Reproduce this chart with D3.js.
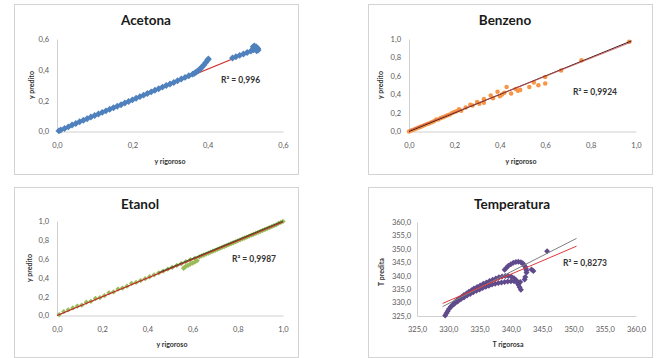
<!DOCTYPE html>
<html>
<head>
<meta charset="utf-8">
<script src="https://cdn.jsdelivr.net/npm/d3@7"></script>
<style>
  body { margin: 0; background: #fff; }
  text { font-family: Lato, 'Open Sans', sans-serif; }
</style>
</head>
<body>
<div id="root"></div>
<script>
// ---- data ----
const acetonaPts = [
  [0.005,0.004],[0.01,0.01],[0.02,0.02],[0.03,0.03],[0.04,0.042],[0.05,0.052],[0.06,0.063],[0.07,0.073],
  [0.08,0.083],[0.09,0.094],[0.10,0.104],[0.11,0.113],[0.12,0.124],[0.13,0.134],[0.14,0.144],[0.15,0.154],
  [0.16,0.164],[0.17,0.174],[0.18,0.185],[0.19,0.195],[0.20,0.205],[0.21,0.216],[0.22,0.226],[0.23,0.236],
  [0.24,0.246],[0.25,0.257],[0.26,0.267],[0.27,0.277],[0.28,0.288],[0.29,0.298],[0.30,0.308],[0.31,0.318],
  [0.32,0.329],[0.33,0.34],[0.34,0.351],[0.35,0.362],[0.36,0.372],[0.365,0.378],
  [0.37,0.386],[0.375,0.395],[0.38,0.405],[0.385,0.418],[0.39,0.432],[0.395,0.448],[0.40,0.463],[0.402,0.47],
  [0.466,0.477],[0.475,0.485],[0.485,0.494],[0.495,0.503],[0.505,0.512],[0.515,0.522],[0.522,0.53],
  [0.526,0.536],[0.521,0.55],[0.524,0.555],[0.529,0.548],[0.533,0.538],[0.534,0.528],[0.53,0.524]
]
const acetonaFit = [[0, 0.005], [0.534, 0.538]]

const benzenoPts = [
  [0,0],[0.01,0.01],[0.02,0.02],[0.03,0.03],[0.04,0.04],[0.05,0.05],[0.06,0.06],[0.07,0.07],[0.08,0.08],
  [0.09,0.09],[0.10,0.10],[0.11,0.11],[0.12,0.13],[0.13,0.13],[0.14,0.145],[0.15,0.155],[0.16,0.165],
  [0.17,0.175],[0.18,0.185],[0.19,0.20],[0.20,0.21],[0.21,0.22],[0.22,0.24],[0.23,0.225],[0.25,0.26],
  [0.27,0.29],[0.28,0.28],[0.30,0.32],[0.31,0.30],[0.33,0.35],[0.33,0.31],[0.36,0.39],[0.37,0.36],
  [0.39,0.43],[0.40,0.38],[0.41,0.40],[0.43,0.48],[0.42,0.42],[0.45,0.41],[0.47,0.46],[0.48,0.44],
  [0.49,0.45],[0.53,0.48],[0.55,0.53],[0.57,0.50],[0.60,0.52],[0.60,0.59],[0.67,0.66],[0.76,0.77],[0.97,0.97]
]
const benzenoRef = [[0, 0], [0.98, 0.98]]
const benzenoFit = [[0, 0.012], [0.98, 0.968]]

const etanolPts = [
  [0.01,0.01],[0.03,0.04],[0.05,0.06],[0.07,0.08],[0.09,0.10],[0.11,0.11],[0.13,0.14],[0.15,0.15],
  [0.17,0.18],[0.19,0.19],[0.21,0.21],[0.23,0.24],[0.25,0.25],[0.27,0.28],[0.29,0.29],[0.31,0.31],
  [0.33,0.34],[0.35,0.35],[0.37,0.37],[0.39,0.39],[0.41,0.41],[0.43,0.43],[0.45,0.45],[0.47,0.47],
  [0.49,0.49],[0.51,0.51],[0.53,0.53],[0.55,0.55],[0.56,0.50],[0.565,0.51],[0.57,0.52],[0.58,0.53],
  [0.59,0.545],[0.60,0.555],[0.61,0.565],[0.62,0.58],[0.57,0.57],[0.59,0.59],[0.61,0.605],[0.63,0.62],
  [0.64,0.63],[0.65,0.64],[0.66,0.65],[0.67,0.66],[0.68,0.67],[0.69,0.68],[0.70,0.69],[0.71,0.70],
  [0.72,0.71],[0.73,0.72],[0.74,0.73],[0.75,0.74],[0.76,0.75],[0.77,0.76],[0.78,0.77],[0.79,0.78],
  [0.80,0.79],[0.81,0.80],[0.82,0.81],[0.83,0.82],[0.84,0.83],[0.85,0.84],[0.86,0.85],[0.87,0.86],
  [0.88,0.87],[0.89,0.88],[0.90,0.89],[0.91,0.90],[0.92,0.91],[0.93,0.92],[0.94,0.93],[0.95,0.94],
  [0.96,0.95],[0.97,0.96],[0.98,0.975],[0.99,0.985],[1.0,0.995]
]
const etanolFit = [[0, 0], [1, 0.99]]
const etanolRef = [[0.45, 0.455], [1, 1.0]]

const tempPts = [
  // rising arc
  [329.5,325.2],[329.7,326.0],[329.9,326.8],[330.1,327.6],[330.4,328.4],[330.7,329.2],[331.0,330.0],
  [331.3,330.7],[331.7,331.4],[332.1,332.1],[332.5,332.8],[332.9,333.4],[333.3,334.0],[333.7,334.6],
  [334.1,335.2],[334.6,335.8],[335.1,336.4],[335.6,337.0],[336.1,337.5],[336.6,338.0],[337.1,338.5],
  [337.6,339.0],[338.1,339.4],[338.6,339.7],[339.1,339.9],[339.6,339.9],[340.1,339.6],[340.5,339.1],
  [340.8,338.4],[341.0,337.5],[341.2,336.6],[341.4,335.7],[341.6,334.8],
  // lower band
  [330.5,328.6],[331.0,329.6],[331.5,330.4],[332.0,331.2],[332.5,331.9],[333.0,332.6],[333.5,333.2],
  [334.0,333.8],[334.5,334.4],[335.0,334.9],[335.5,335.4],[336.0,335.9],[336.5,336.3],[337.0,336.7],
  [337.5,337.0],[338.0,337.3],[338.5,337.5],[339.0,337.7],[339.5,337.8],[340.0,337.9],[340.5,337.9],
  [341.0,337.8],[341.5,337.7],
  // upper arc
  [339.0,342.2],[339.3,343.0],[339.6,343.7],[340.0,344.3],[340.4,344.8],[340.8,345.1],[341.2,345.2],
  [341.6,345.0],[341.9,344.6],[342.1,344.0],[342.3,343.3],[342.4,342.6],[342.5,341.9],[342.5,341.2],
  // loose points
  [343.3,342.3],[343.6,341.8],[342.3,339.5],[342.2,338.6],[345.8,349.1]
]
const tempFit = [[329.1, 329.7], [350.5, 351.0]]
const tempRef = [[329.1, 328.5], [350.5, 353.9]]

const ticksFrac06 = [0, 0.2, 0.4, 0.6]
const ticksFrac10 = [0, 0.2, 0.4, 0.6, 0.8, 1.0]
const ticksTemp = [325, 330, 335, 340, 345, 350, 355, 360]

// -------- drawing --------
const fmt = d3.formatLocale({ decimal: ',', thousands: '.', grouping: [3], currency: ['', ''] }).format('.1f')

const svg = d3.select('#root').append('svg')
  .attr('width', 656)
  .attr('height', 358)

svg.append('rect').attr('width', 656).attr('height', 358).attr('fill', '#fff')

function panel(p) {
  const g = svg.append('g')

  g.append('rect')
    .attr('x', p.frame[0] + 0.5).attr('y', p.frame[1] + 0.5)
    .attr('width', p.frame[2]).attr('height', p.frame[3])
    .attr('fill', '#fff')
    .attr('stroke', '#d3d3d3')

  const x = d3.scaleLinear().domain(d3.extent(p.xTicks)).range([p.left, p.right])
  const y = d3.scaleLinear().domain(d3.extent(p.yTicks)).range([p.bottom, p.top])

  const xAxis = g.append('g')
    .attr('transform', `translate(0,${p.bottom})`)
    .call(d3.axisBottom(x).tickValues(p.xTicks).tickFormat(fmt).tickSize(0).tickPadding(p.xPad))
  const yAxis = g.append('g')
    .attr('transform', `translate(${p.left},0)`)
    .call(d3.axisLeft(y).tickValues(p.yTicks).tickFormat(fmt).tickSize(0).tickPadding(p.yPad))

  for (const a of [xAxis, yAxis]) {
    a.select('.domain').attr('stroke', '#d0d0d0')
    a.selectAll('text')
      .attr('fill', '#595959')
      .style('font-size', '7.5px')
      .style('font-family', 'Lato, sans-serif')
  }

  const line = d3.line().x(d => x(d[0])).y(d => y(d[1]))
  function drawLines(list) {
    for (const l of list) {
      g.append('path')
        .datum(l.data)
        .attr('d', line)
        .attr('fill', 'none')
        .attr('stroke', l.color)
        .attr('stroke-width', l.width || 1.2)
        .attr('opacity', l.opacity || 1)
    }
  }

  drawLines(p.linesBelow || [])

  // Excel-style diamond: a square turned 45 degrees
  g.selectAll('path.pt')
    .data(p.points)
    .join('path')
    .attr('class', 'pt')
    .attr('transform', d => `translate(${x(d[0])},${y(d[1])})` + (p.turn ? ' rotate(45)' : ''))
    .attr('d', d3.symbol(p.symbol, p.symbolSize))
    .attr('fill', p.color)

  drawLines(p.lines || [])

  g.append('text')
    .attr('x', p.titlePos[0]).attr('y', p.titlePos[1])
    .attr('text-anchor', 'middle')
    .style('font-size', '13.5px').style('font-weight', 700)
    .attr('fill', '#1a1a1a')
    .text(p.title)

  g.append('text')
    .attr('x', p.xTitlePos[0]).attr('y', p.xTitlePos[1])
    .attr('text-anchor', 'middle')
    .style('font-size', '7px').style('font-weight', 700)
    .attr('fill', '#333')
    .text(p.xTitle)

  g.append('text')
    .attr('transform', `translate(${p.yTitlePos[0]},${p.yTitlePos[1]}) rotate(-90)`)
    .attr('text-anchor', 'middle')
    .style('font-size', '7px').style('font-weight', 700)
    .attr('fill', '#333')
    .text(p.yTitle)

  g.append('text')
    .attr('x', p.r2Pos[0]).attr('y', p.r2Pos[1])
    .style('font-size', '8.5px').style('font-weight', 700)
    .attr('fill', '#333')
    .text(p.r2)
}

panel({
  title: 'Acetona', xTitle: 'y rigoroso', yTitle: 'y predito', r2: 'R² = 0,996',
  frame: [14, 4, 284, 170], left: 57, right: 283, bottom: 131.5, top: 39,
  xTicks: ticksFrac06, yTicks: ticksFrac06, xPad: 11, yPad: 8,
  titlePos: [146, 25], xTitlePos: [170, 164], yTitlePos: [34, 85], r2Pos: [221, 83],
  points: acetonaPts, color: '#4f81bd', symbol: d3.symbolSquare, symbolSize: 24, turn: true,
  linesBelow: [{ data: acetonaFit, color: '#d03030' }]
})

panel({
  title: 'Benzeno', xTitle: 'y rigoroso', yTitle: 'y predito', r2: 'R² = 0,9924',
  frame: [368, 4, 284, 170], left: 409, right: 636, bottom: 131.5, top: 39,
  xTicks: ticksFrac10, yTicks: ticksFrac10, xPad: 11, yPad: 8,
  titlePos: [505, 25], xTitlePos: [521, 164], yTitlePos: [383, 85], r2Pos: [573, 95],
  points: benzenoPts, color: '#f79646', symbol: d3.symbolCircle, symbolSize: 16,
  lines: [
    { data: benzenoRef, color: '#3a1414', width: 1 },
    { data: benzenoFit, color: '#c0504d', width: 1.1, opacity: 0.75 }
  ]
})

panel({
  title: 'Etanol', xTitle: 'y rigoroso', yTitle: 'y predito', r2: 'R² = 0,9987',
  frame: [14, 187, 284, 170], left: 57, right: 283, bottom: 315.5, top: 221,
  xTicks: ticksFrac10, yTicks: ticksFrac10, xPad: 11, yPad: 8,
  titlePos: [140, 209], xTitlePos: [172, 347], yTitlePos: [32, 268], r2Pos: [232, 262],
  points: etanolPts, color: '#9bbb59', symbol: d3.symbolSquare, symbolSize: 14, turn: true,
  lines: [
    { data: etanolFit, color: '#c0282d', width: 1.2 },
    { data: etanolRef, color: '#2e3b1a', width: 1, opacity: 0.8 }
  ]
})

panel({
  title: 'Temperatura', xTitle: 'T rigorosa', yTitle: 'T predita', r2: 'R² = 0,8273',
  frame: [368, 187, 284, 170], left: 417, right: 636, bottom: 316, top: 222,
  xTicks: ticksTemp, yTicks: ticksTemp, xPad: 11, yPad: 6,
  titlePos: [512, 209], xTitlePos: [508, 347], yTitlePos: [384, 272], r2Pos: [563, 266],
  points: tempPts, color: '#5f4a8b', symbol: d3.symbolSquare, symbolSize: 18, turn: true,
  lines: [
    { data: tempRef, color: '#7f7f7f', width: 1 },
    { data: tempFit, color: '#e03a3a', width: 1 }
  ]
})
</script>
</body>
</html>
